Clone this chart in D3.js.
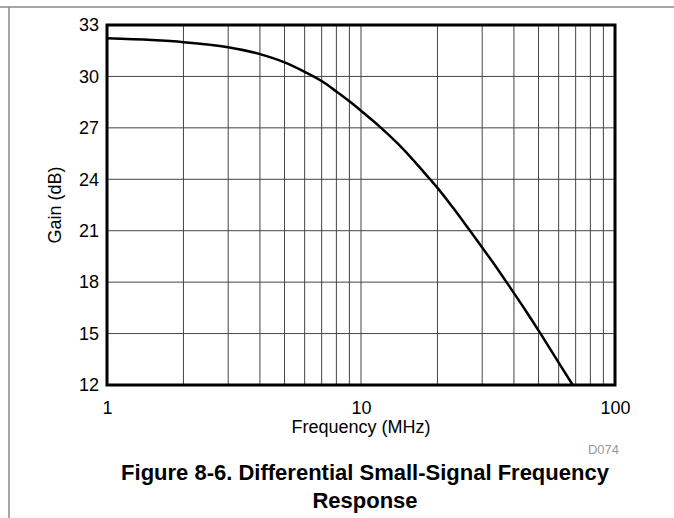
<!DOCTYPE html>
<html>
<head>
<meta charset="utf-8">
<script src="https://cdn.jsdelivr.net/npm/d3@7"></script>
<style>
  body { margin: 0; background: #fff; }
  text { font-family: "Liberation Sans", Arial, sans-serif; }
</style>
</head>
<body>
<script>
const width = 674;
const height = 518;

// curve (MHz, dB)
const freq = [1, 1.5, 2, 3, 4, 5, 6, 7, 8, 9, 10, 12, 14, 16, 18.7, 20, 23, 26.7, 30, 34, 37.8, 44, 51, 60, 68.2];
const gain = [32.22, 32.12, 32.0, 31.7, 31.3, 30.82, 30.27, 29.73, 29.12, 28.55, 28.0, 27.0, 26.06, 25.15, 24.0, 23.5, 22.35, 21.05, 20.02, 18.9, 17.9, 16.45, 14.98, 13.31, 12.0];

const xTicks = [1, 10, 100];
const xGrid = [2, 3, 4, 5, 6, 7, 8, 9, 10, 20, 30, 40, 50, 60, 70, 80, 90];
const yTicks = [12, 15, 18, 21, 24, 27, 30, 33];

const plotLeft = 107, plotRight = 615, plotTop = 25, plotBottom = 385;
const font = '"Liberation Sans", Arial, sans-serif';

let svg = d3.select('body')
            .append('svg')
            .attr('width', width)
            .attr('height', height);

// page frame lines
svg.append('line').attr('x1', 0).attr('x2', width).attr('y1', 7).attr('y2', 7)
   .attr('stroke', '#888').attr('stroke-width', 1.5);
svg.append('line').attr('x1', 9).attr('x2', 9).attr('y1', 7).attr('y2', height)
   .attr('stroke', '#888').attr('stroke-width', 1.5);

let x = d3.scaleLog().domain([1, 100]).range([plotLeft, plotRight]);
let y = d3.scaleLinear().domain([12, 33]).range([plotBottom, plotTop]);

// grid
svg.selectAll('line.vgrid')
   .data(xGrid)
   .enter()
   .append('line')
   .attr('class', 'vgrid')
   .attr('x1', d => x(d)).attr('x2', d => x(d))
   .attr('y1', plotTop).attr('y2', plotBottom)
   .attr('stroke', '#444').attr('stroke-width', 1);

svg.selectAll('line.hgrid')
   .data(yTicks.slice(1, -1))
   .enter()
   .append('line')
   .attr('class', 'hgrid')
   .attr('x1', plotLeft).attr('x2', plotRight)
   .attr('y1', d => y(d)).attr('y2', d => y(d))
   .attr('stroke', '#444').attr('stroke-width', 1);

// tick labels
let yAxis = svg.append('g')
   .attr('transform', `translate(${plotLeft},0)`)
   .call(d3.axisLeft(y).tickValues(yTicks).tickSize(0).tickPadding(8));
yAxis.select('.domain').remove();
yAxis.attr('font-size', 18).attr('font-family', font);
yAxis.selectAll('text').attr('fill', '#000');

let xAxis = svg.append('g')
   .attr('transform', `translate(0,${plotBottom})`)
   .call(d3.axisBottom(x).tickValues(xTicks).tickFormat(d3.format('d')).tickSize(0).tickPadding(16));
xAxis.select('.domain').remove();
xAxis.attr('font-size', 18).attr('font-family', font);
xAxis.selectAll('text').attr('fill', '#000');

// curve
let line = d3.line()
             .x((d, i) => x(freq[i]))
             .y(d => y(d))
             .curve(d3.curveMonotoneX);

svg.append('path')
   .datum(gain)
   .attr('d', line)
   .attr('fill', 'none')
   .attr('stroke', '#000')
   .attr('stroke-width', 2.5);

// plot frame
svg.append('rect')
   .attr('x', plotLeft).attr('y', plotTop)
   .attr('width', plotRight - plotLeft).attr('height', plotBottom - plotTop)
   .attr('fill', 'none').attr('stroke', '#000').attr('stroke-width', 3);

// titles
svg.append('text')
   .attr('x', (plotLeft + plotRight) / 2).attr('y', 433)
   .attr('text-anchor', 'middle').attr('font-size', 18)
   .text('Frequency (MHz)');

svg.append('text')
   .attr('transform', `translate(61,${(plotTop + plotBottom) / 2}) rotate(-90)`)
   .attr('text-anchor', 'middle').attr('font-size', 18)
   .text('Gain (dB)');

svg.append('text')
   .attr('x', 619).attr('y', 454)
   .attr('text-anchor', 'end').attr('font-size', 13).attr('fill', '#999')
   .text('D074');

svg.append('text')
   .attr('x', 365).attr('y', 480)
   .attr('text-anchor', 'middle').attr('font-size', 22).attr('font-weight', 'bold')
   .text('Figure 8-6. Differential Small-Signal Frequency');

svg.append('text')
   .attr('x', 365).attr('y', 508)
   .attr('text-anchor', 'middle').attr('font-size', 22).attr('font-weight', 'bold')
   .text('Response');
</script>
</body>
</html>
